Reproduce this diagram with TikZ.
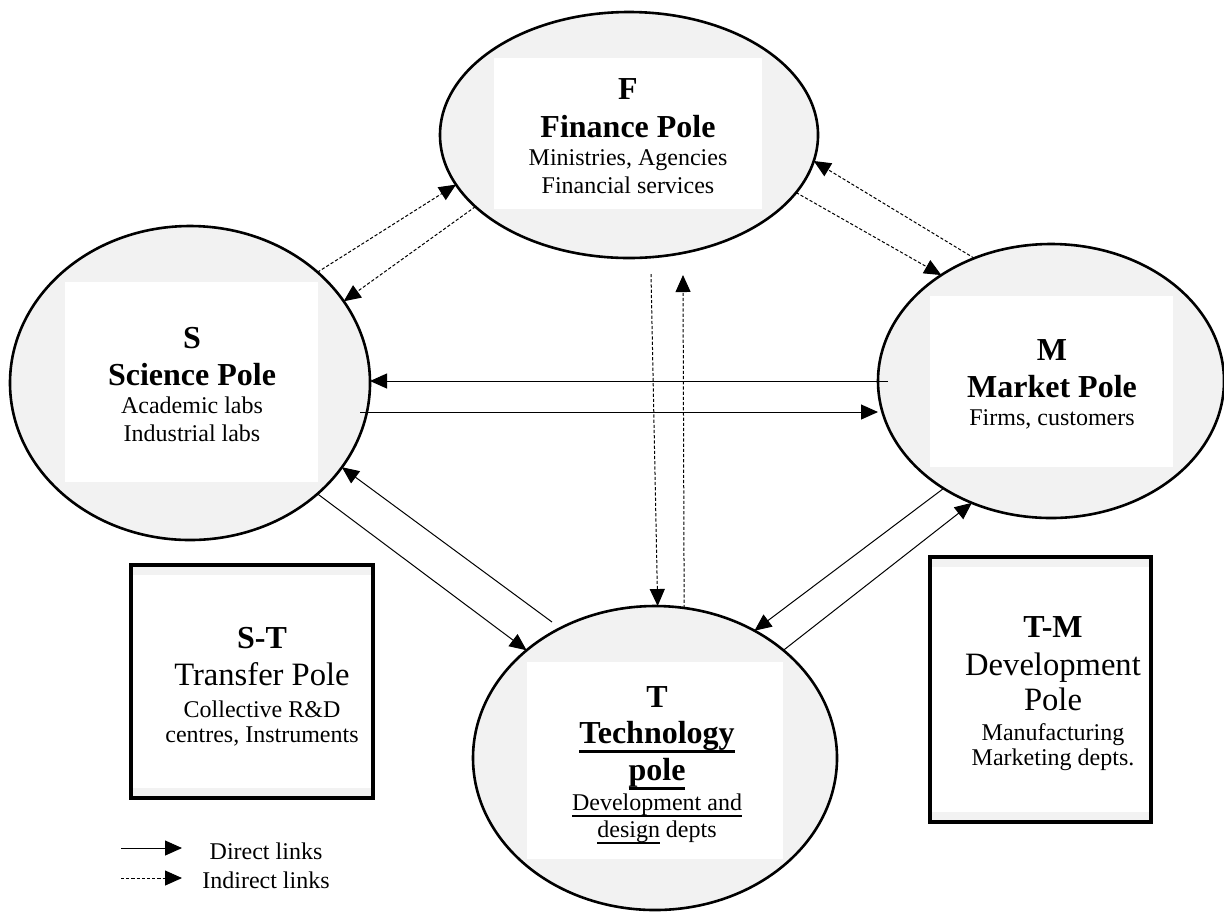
\documentclass[tikz,border=0pt]{standalone}
\usepackage{fontspec}
\setmainfont{Liberation Serif}
\usetikzlibrary{arrows.meta,shapes.geometric}

\definecolor{polegray}{RGB}{242,242,242}

\tikzset{
    pole/.style={ellipse, draw, line width=1.3pt, fill=polegray, inner sep=0pt, outer sep=0pt},
    polebox/.style={rectangle, draw, line width=2pt, fill=polegray, inner sep=0pt, outer sep=0pt},
    poletext/.style={align=center, anchor=base, inner sep=0pt, font=\fontsize{12}{14}\selectfont},
    direct/.style={-{Triangle[length=8.5pt,width=7.5pt]}, line width=0.5pt},
    indirect/.style={direct, dash pattern=on 1.6pt off 1pt},
}
\newcommand{\poletitle}[1]{\smash{\fontsize{16}{19}\selectfont\bfseries #1}}
\newcommand{\polebig}[1]{\smash{\fontsize{16.3}{19}\selectfont #1}}
\newcommand{\poleul}[2][0.8pt]{\begingroup\setbox0\hbox{#2}\rlap{\rule[-\dimexpr\dp0+#1\relax]{\wd0}{#1}}\box0\endgroup}

\begin{document}
\begin{tikzpicture}[x=0.5pt, y=-0.5pt]
    \useasboundingbox (0,0) rectangle (1224,912);

    % Poles
    \node[pole, minimum width=189pt, minimum height=123pt] (F) at (629,135) {};
    \node[pole, minimum width=180pt, minimum height=157pt] (S) at (190,383) {};
    \node[pole, minimum width=173pt, minimum height=137pt] (M) at (1051,381) {};
    \node[pole, minimum width=182pt, minimum height=152pt] (T) at (655,758) {};

    \fill[white] (494,58) rectangle (762,209);
    \fill[white] (65,282) rectangle (318,482);
    \fill[white] (930,296) rectangle (1173,467);
    \fill[white] (527,662) rectangle (783,859);

    % Intermediate poles
    \node[polebox, minimum width=121pt, minimum height=116.5pt] (ST) at (252,681.5) {};
    \node[polebox, minimum width=110.5pt, minimum height=132.5pt] (TM) at (1040.5,689) {};
    \fill[white] ([shift={(1pt,-5pt)}]ST.north west) rectangle ([shift={(-1pt,5pt)}]ST.south east);
    \fill[white] ([shift={(1pt,-5pt)}]TM.north west) rectangle ([shift={(-1pt,5pt)}]TM.south east);

    % Texts (placed at the baseline of their last line)
    \node[poletext] (Ftext) at (628,193) {\poletitle{F}\\[5pt]\poletitle{Finance Pole}\\Ministries, Agencies\\Financial services};
    \node[poletext] (Stext) at (192,441) {\poletitle{S}\\[4.5pt]\poletitle{Science Pole}\\Academic labs\\Industrial labs};
    \node[poletext] (Mtext) at (1052,425) {\poletitle{M}\\[4.5pt]\poletitle{Market Pole}\\Firms, customers};
    \node[poletext] (Ttext) at (657,837) {\poletitle{T}\\[4pt]\poletitle{\poleul[1.4pt]{Technology}}\\[4.5pt]\poletitle{\poleul[1.4pt]{pole}}\\[1pt]\poleul{Development and}\\[-0.5pt]\poleul{design} depts};
    \node[poletext] (STtext) at (262,742) {\poletitle{S-T}\\[4.5pt]\polebig{Transfer Pole}\\[2pt]Collective R\&D\\[-1.5pt]centres, Instruments};
    \node[poletext] (TMtext) at (1053,765) {\poletitle{T-M}\\[5pt]\polebig{Development}\\[3.5pt]\polebig{Pole}\\[1pt]Manufacturing\\[-1.5pt]Marketing depts.};

    % Indirect links
    \draw[indirect] (S.41) -- (F.196);
    \draw[indirect] (F.205) -- (S.28);
    \draw[indirect] (F.341) -- (M.136);
    \draw[indirect] (M.122) -- (F.352);
    \coordinate (FTa) at (651,274);
    \coordinate (FTb) at (683,275);
    \draw[indirect] (FTa) -- (T.89);
    \draw[indirect] (T.79) -- (FTb);

    % Direct links
    \coordinate (MS) at (888,381);
    \coordinate (SM) at (360,412);
    \draw[direct] (MS) -- (MS -| S.east);
    \draw[direct] (SM) -- (SM -| M.west);
    \draw[direct] (S.-41) -- (T.140);
    \coordinate (TS) at (552,622);
    \draw[direct] (TS) -- (S.-29);
    \draw[direct] (M.225) -- (T.52);
    \draw[direct] (T.40) -- (M.237);

    % Legend
    \coordinate (lgD0) at (121,848);
    \coordinate (lgD1) at (182,848);
    \coordinate (lgI0) at (121,878);
    \coordinate (lgI1) at (182,878);
    \draw[direct] (lgD0) -- (lgD1);
    \draw[indirect] (lgI0) -- (lgI1);
    \node[poletext] (lgD) at (266,859) {Direct links};
    \node[poletext] (lgI) at (266,888) {Indirect links};
\end{tikzpicture}
\end{document}
